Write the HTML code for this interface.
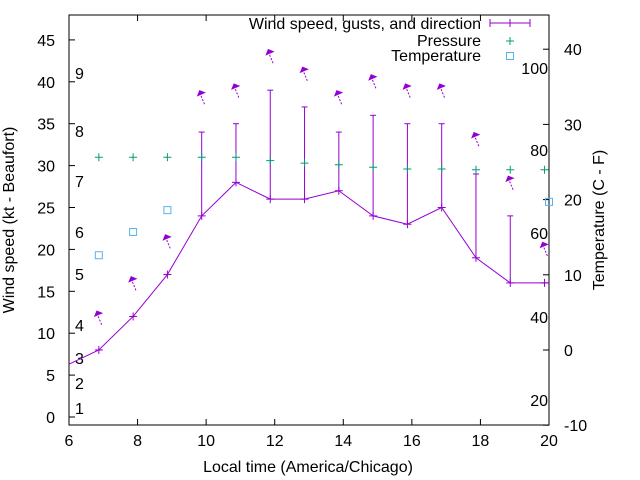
<!DOCTYPE html>
<html><head><meta charset="utf-8"><style>body{margin:0;background:#fff}svg{display:block;font-family:"Liberation Sans",sans-serif}</style></head>
<body>
<svg id="c" width="640" height="480"></svg>
<script>
const hours=[6.87,7.87,8.87,9.87,10.87,11.87,12.87,13.87,14.87,15.87,16.87,17.87,18.87,19.87];
const wind=[8,12,17,24,28,26,26,27,24,23,25,19,16,16];
const gust=[8,12,17,34,35,39,37,34,36,35,35,29,24,16];
const arrowPos=[12.4,16.5,21.5,38.7,39.5,43.6,41.5,38.7,40.6,39.5,39.5,33.7,28.5,20.6];
const pressure=[31,31,31,31,31,30.6,30.3,30.1,29.8,29.6,29.6,29.5,29.5,29.5];
const tempHours=[6.87,7.87,8.87,20];
const temp=[12.6,15.7,18.6,19.7];
const xTicks=[6,8,10,12,14,16,18,20];
const yTicks=[0,5,10,15,20,25,30,35,40,45];
const y2Ticks=[-10,0,10,20,30,40];
const pTicks=["100","80","60","40","20"];
const pTickY=[68,150,233,317,400];
const bTicks=["1","2","3","4","5","6","7","8","9"];
const bTickY=[408,383,358,325,274,232,181,131,73];
const L=69,R=549,T=15,B=425;
const X=v=>L+(v-6)*(R-L)/14;
const Y=v=>417-v*8.38;
const Y2=v=>350-v*7.52;
const s=document.getElementById('c');
const NS='http://www.w3.org/2000/svg';
function mk(tag,at,name,parent){const e=document.createElementNS(NS,tag);for(const k in at)e.setAttribute(k,at[k]);


(parent||s).appendChild(e);return e;}
function tx(x,y,t,name,anchor,extra){const e=mk('text',Object.assign({x:x,y:y,'font-size':16,fill:'#000','text-anchor':anchor||'middle'},extra||{}),name);e.textContent=t;return e;}
mk('rect',{x:L,y:T,width:R-L,height:B-T,fill:'none',stroke:'#000','stroke-width':1},'plot-frame');
xTicks.forEach(v=>{mk('line',{x1:X(v),x2:X(v),y1:B,y2:B-6,stroke:'#000'},'x-tick');mk('line',{x1:X(v),x2:X(v),y1:T,y2:T+6,stroke:'#000'},'x-tick-top');tx(X(v),446,String(v),'x-tick-label');});
yTicks.forEach(v=>{mk('line',{x1:L,x2:L+6,y1:Y(v),y2:Y(v),stroke:'#000'},'y-tick');tx(L-14,Y(v)+6,String(v),'y-tick-label','end');});
y2Ticks.forEach(v=>{mk('line',{x1:R,x2:R-6,y1:Y2(v),y2:Y2(v),stroke:'#000'},'y2-tick');tx(R+15,Y2(v)+6,String(v),'y2-tick-label','start');});
pTicks.forEach((t,i)=>tx(R-1,pTickY[i]+6,t,'pressure-tick-label','end'));
bTicks.forEach((t,i)=>tx(75,bTickY[i]+6,t,'beaufort-label','start'));
tx(308,472,'Local time (America/Chicago)','x-axis-title');
tx(0,0,'Wind speed (kt - Beaufort)','y-axis-title','middle',{transform:'translate(14,220) rotate(-90)'});
tx(0,0,'Temperature (C - F)','y2-axis-title','middle',{transform:'translate(604,220) rotate(-90)'});
const P='#9400d3';
let d='M'+X(6)+' '+Y(6.3);
hours.forEach((h,i)=>d+=' L'+X(h)+' '+Y(wind[i]));
d+=' L'+X(20)+' '+Y(16);
mk('path',{d:d,fill:'none',stroke:P,'stroke-width':1},'wind-line');
hours.forEach((h,i)=>{const x=X(h);
mk('line',{x1:x,x2:x,y1:Y(wind[i]),y2:Y(gust[i]),stroke:P},'gust-bar');
mk('line',{x1:x-3,x2:x+3,y1:Y(gust[i]),y2:Y(gust[i]),stroke:P},'gust-cap');
mk('line',{x1:x-4,x2:x+4,y1:Y(wind[i]),y2:Y(wind[i]),stroke:P},'wind-point');
mk('line',{x1:x,x2:x,y1:Y(wind[i])-4,y2:Y(wind[i])+4,stroke:P},'wind-point');
const ay=Y(arrowPos[i]);
mk('line',{x1:x-2,y1:ay,x2:x+3,y2:ay+12,stroke:P,'stroke-dasharray':'2,1.5'},'direction-arrow-shaft');
mk('polygon',{points:`${x-2},${ay-2} ${x+3},${ay} ${x-4},${ay+3}`,fill:P,stroke:P},'direction-arrow-head');
});
const G='#009e73';
hours.forEach((h,i)=>{const x=X(h),y=Y(pressure[i]);
mk('path',{d:`M${x-4} ${y}H${x+4}M${x} ${y-4}V${y+4}`,stroke:G},'pressure-point');});
const C='#56b4e9';
tempHours.forEach((h,i)=>mk('rect',{x:X(h)-3.5,y:Y2(temp[i])-3.5,width:7,height:7,fill:'none',stroke:C},'temperature-point'));
tx(481,29,'Wind speed, gusts, and direction','legend-wind','end');
mk('path',{d:'M490 23H530M490 19V27M530 19V27M510 19V27',stroke:P,fill:'none'},'legend-wind-sample');
tx(481,46,'Pressure','legend-pressure','end');
mk('path',{d:'M506 41H514M510 37V45',stroke:G},'legend-pressure-sample');
tx(481,61,'Temperature','legend-temperature','end');
mk('rect',{x:506.5,y:52.5,width:7,height:7,fill:'none',stroke:C},'legend-temperature-sample');
</script>
</body></html>
